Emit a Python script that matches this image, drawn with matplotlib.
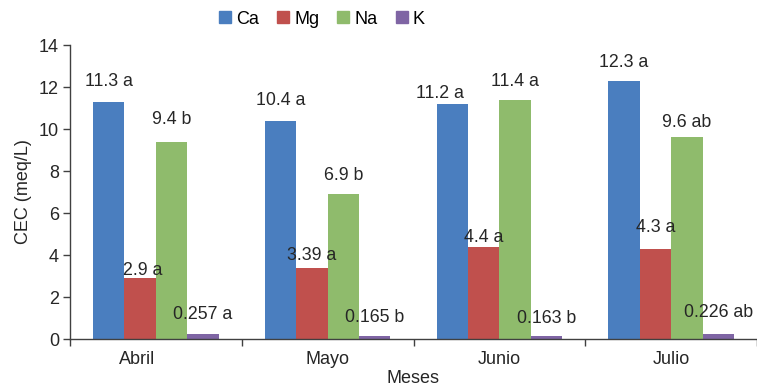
import numpy as np
import matplotlib
matplotlib.use("Agg")
import matplotlib.pyplot as plt
import matplotlib.transforms as mtransforms
from matplotlib.patches import Patch

plt.rcParams["font.family"] = ["Liberation Sans", "DejaVu Sans"]

meses = ["Abril", "Mayo", "Junio", "Julio"]
cationes = ["Ca", "Mg", "Na", "K"]
ca = [11.3, 10.4, 11.2, 12.3]
mg = [2.9, 3.39, 4.4, 4.3]
na = [9.4, 6.9, 11.4, 9.6]
k = [0.257, 0.165, 0.163, 0.226]
letras_ca = ["a", "a", "a", "a"]
letras_mg = ["a", "a", "a", "a"]
letras_na = ["b", "b", "a", "ab"]
letras_k = ["a", "b", "b", "ab"]

colores = ["#4a7ebf", "#c0504d", "#8fbb6c", "#7f65a4"]
# label offsets above each bar (points), tweaked so labels don't collide
dy = [[14.4, 14.8, 7.2, 13.0],
      [5.8, 8.6, 6.5, 15.0],
      [15.8, 13.3, 13.0, 10.8],
      [14.0, 13.3, 12.0, 15.8]]
dx = [[0, 0, -8.6, 0], [2, 0, 0, 0], [0, 0, 0, 0], [0, 0, 0, 0]]

series = [ca, mg, na, k]
letras = [letras_ca, letras_mg, letras_na, letras_k]

fig = plt.figure(figsize=(7.57, 3.91), dpi=100)
ax = fig.add_axes([70 / 757, 1 - 339 / 391, 1 - 70 / 757, (339 - 45) / 391])

x = np.arange(len(meses))
w = 0.183
for i, (vals, lets) in enumerate(zip(series, letras)):
    pos = x + (i - 1.5) * w
    ax.bar(pos, vals, w, color=colores[i], zorder=2)
    for j, (p, v, l) in enumerate(zip(pos, vals, lets)):
        ax.annotate(f"{v:g} {l}", (p, v), xytext=(dx[i][j], dy[i][j]),
                    textcoords="offset points", ha="center", va="center",
                    fontsize=12.8, color="#262626")

ax.set_xlim(-0.5, 3.5)
ax.set_ylim(0, 14)
ax.set_yticks(range(0, 15, 2))
ax.set_xticks(x)
ax.set_xticklabels(meses, fontsize=13, color="#262626")
ax.set_xticks(np.arange(-0.5, 3.6, 1), minor=True)
ax.tick_params(axis="x", which="major", length=0, pad=9)
ax.tick_params(axis="x", which="minor", length=5, width=1, color="#404040")
ax.tick_params(axis="y", length=5, width=1, color="#404040", labelsize=13,
               labelcolor="#262626", pad=3)
# first category label sits a bit left of its group
lab0 = ax.get_xticklabels()[0]
lab0.set_transform(lab0.get_transform() + mtransforms.ScaledTranslation(-19 / 100, 0, fig.dpi_scale_trans))

for s in ["top", "right"]:
    ax.spines[s].set_visible(False)
for s in ["left", "bottom"]:
    ax.spines[s].set_color("#404040")
    ax.spines[s].set_linewidth(1)

ax.set_ylabel("CEC (meq/L)", fontsize=13, color="#262626", labelpad=5)
ax.set_xlabel("Meses", fontsize=13, color="#262626", labelpad=1)

handles = [Patch(color=c) for c in colores]
fig.legend(handles, cationes, loc="center", bbox_to_anchor=(322 / 757, 1 - 19 / 391),
           ncol=4, frameon=False, fontsize=13, handlelength=0.65, handleheight=0.65,
           handletextpad=0.3, columnspacing=1.0)

fig.savefig("out.png", dpi=100)
